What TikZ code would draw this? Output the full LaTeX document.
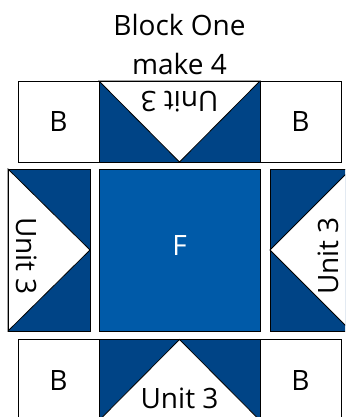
\documentclass[tikz,border=0pt]{standalone}
\usepackage{fontspec}
\setmainfont{Open Sans}
\usetikzlibrary{positioning}
\definecolor{geese}{HTML}{004486}
\definecolor{fabricF}{HTML}{005AA8}

\begin{document}
\begin{tikzpicture}[x=1pt,y=-1pt,
    patch/.style={draw=black,line width=0.8pt},
    lbl/.style={font=\fontsize{28}{33}\selectfont,inner sep=0pt}]
  \useasboundingbox (0,0) rectangle (345,417);
  \clip (0,0) rectangle (345,417);
  % title
  \node[lbl,anchor=base] (title) at (179.5,36) {Block One};
  \node[lbl,anchor=base] (make) at (179.5,75) {make 4};
  % corner squares
  \foreach \n/\x/\y in {tl/18/81, tr/260/81, bl/18/339.5, br/260/339.5}{
    \draw[patch,fill=white] (\x,\y) rectangle ++(81,81);
    \node[lbl] (b\n) at (\x+40.5,\y+41) {B};
  }
  % centre square
  \draw[patch,fill=fabricF] (99,169) rectangle (260,331);
  \node[lbl,white] (f) at (179.5,246) {F};
  % unit 3, top
  \fill[geese] (99,81) rectangle (260,162);
  \draw[patch,fill=white] (99,81) -- (179.5,162) -- (260,81) -- cycle;
  \draw[patch] (99,81) rectangle (260,162);
  \node[lbl,rotate=180] (utop) at (179.5,102) {Unit 3};
  % unit 3, bottom
  \fill[geese] (99,339.5) rectangle (260,420.5);
  \draw[patch,fill=white] (99,420.5) -- (179.5,339.5) -- (260,420.5) -- cycle;
  \draw[patch] (99,339.5) rectangle (260,420.5);
  \node[lbl] (ubot) at (179.5,398) {Unit 3};
  % unit 3, left
  \fill[geese] (8,169) rectangle (90,331);
  \draw[patch,fill=white] (8,169) -- (90,250) -- (8,331) -- cycle;
  \draw[patch] (8,169) rectangle (90,331);
  \node[lbl,rotate=-90] (uleft) at (27,256) {Unit 3};
  % unit 3, right
  \fill[geese] (270,169) rectangle (351,331);
  \draw[patch,fill=white] (351,169) -- (270,250) -- (351,331) -- cycle;
  \draw[patch] (270,169) rectangle (351,331);
  \node[lbl,rotate=90] (uright) at (328,256) {Unit 3};
\end{tikzpicture}
\end{document}
